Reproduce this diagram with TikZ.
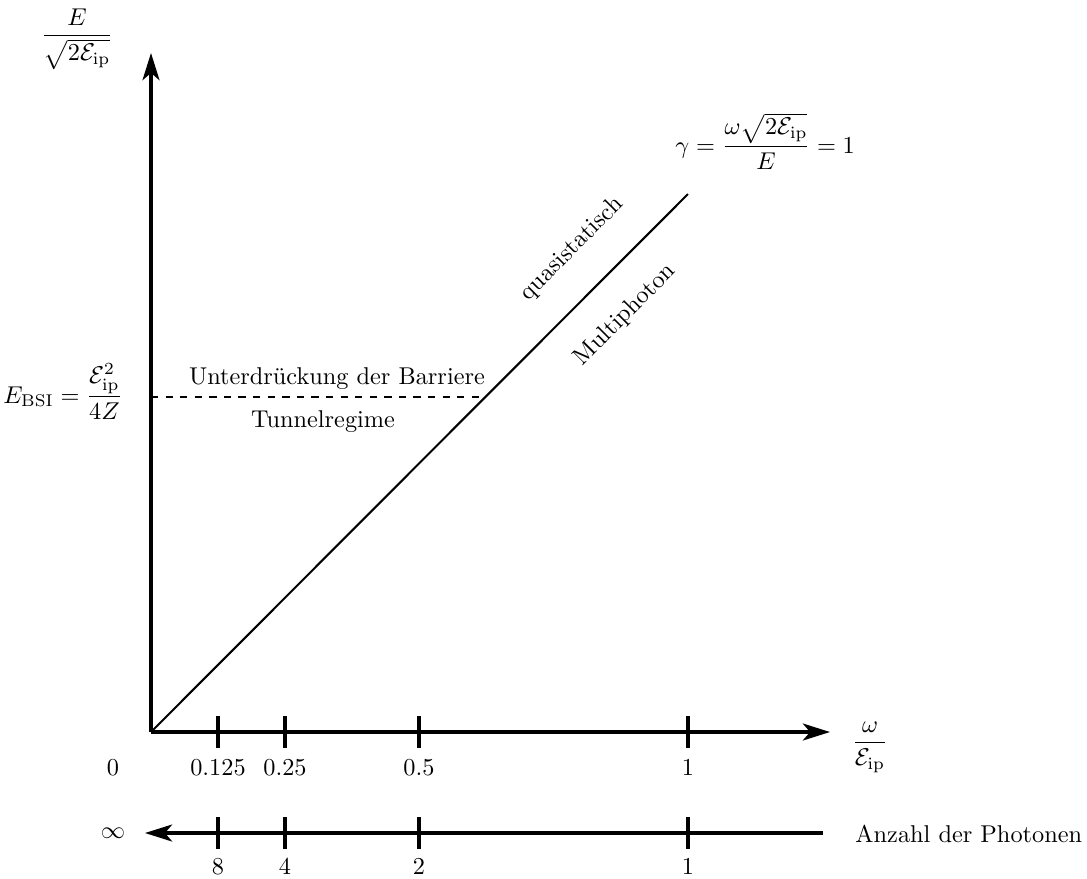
\documentclass[tikz,border=0pt]{standalone}
\usepackage{amsmath}
\usetikzlibrary{arrows.meta}
\begin{document}
\begin{tikzpicture}[x=0.4115pt,y=-0.4115pt,
  axis/.style={line width=1.25pt},
  tipped/.style={-{Stealth[length=11.2pt,width=7pt,inset=3pt]}},
  tickline/.style={line width=1.25pt},
  gammaline/.style={line width=0.85pt},
  barrier/.style={line width=0.85pt,dashed},
  lbl/.style={inner sep=0pt},
]
\useasboundingbox (0,0) rectangle (1087,878);
% axes
\coordinate (O) at (151,732);
\coordinate (Ytop) at (151,53);
\coordinate (Xend) at (830,732);
\coordinate (Nstart) at (823,833);
\coordinate (Nend) at (145,833);
\coordinate (G) at (688,194);
\coordinate (B0) at (151,397);
\coordinate (B1) at (486,397);
\draw[axis,tipped] (O) -- (Ytop);
\draw[axis,tipped] (O) -- (Xend);
\draw[axis,tipped] (Nstart) -- (Nend);
\draw[gammaline] (O) -- (G);
\draw[barrier] (B0) -- (B1);
% ticks and labels
\foreach \x/\a/\b [count=\i] in {218/0.125/8, 285/0.25/4, 419/0.5/2, 688/1/1} {
  \coordinate (ta\i) at (\x,716);
  \coordinate (tb\i) at (\x,748);
  \coordinate (tc\i) at (\x,817);
  \coordinate (td\i) at (\x,849);
  \draw[tickline] (ta\i) -- (tb\i);
  \draw[tickline] (tc\i) -- (td\i);
  \node[lbl,anchor=base] (xl\i) at (\x,775) {$\a$};
  \node[lbl,anchor=base] (nl\i) at (\x,874) {$\b$};
}
\node[lbl,anchor=base] (zero) at (113,775) {$0$};
\node[lbl] (inf) at (113,833) {$\infty$};
\node[lbl,anchor=west] (anz) at (855,834) {Anzahl der Photonen};
% axis labels
\node[lbl,anchor=base] (ylab) at (77,42) {$\dfrac{E}{\sqrt{2\mathcal{E}_{\mathrm{ip}}}}$};
\node[lbl,anchor=base] (xlab) at (870,749) {$\dfrac{\omega}{\mathcal{E}_{\mathrm{ip}}}$};
\node[lbl,anchor=base east] (ebsi) at (123,403) {$E_{\mathrm{BSI}}=\dfrac{\mathcal{E}_{\mathrm{ip}}^2}{4Z}$};
\node[lbl,anchor=base west] (gam) at (675,153) {$\gamma=\dfrac{\omega\sqrt{2\mathcal{E}_{\mathrm{ip}}}}{E}=1$};
% region labels
\node[lbl,anchor=base] (unt) at (337,384) {Unterdrückung der Barriere};
\node[lbl,anchor=base] (tun) at (323,427) {Tunnelregime};
\node[lbl,rotate=45] (qs) at (572,249) {quasistatisch};
\node[lbl,rotate=45] (mp) at (625,315) {Multiphoton};
\end{tikzpicture}
\end{document}
